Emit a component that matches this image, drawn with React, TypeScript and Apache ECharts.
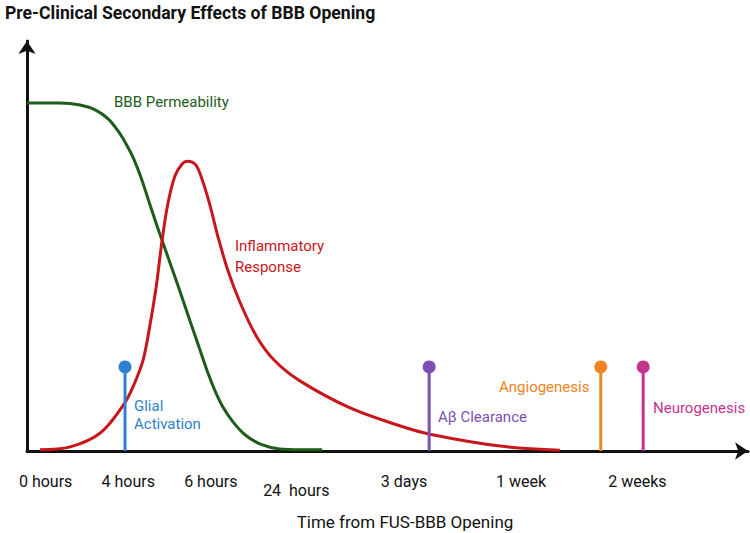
import React, { useEffect, useRef } from "react";
import * as echarts from "echarts";

const title = "Pre-Clinical Secondary Effects of BBB Opening";
const axisTitle = "Time from FUS-BBB Opening";

// tick labels (x positions in axis units)
const tickValues = [2.6, 14.1, 25.6, 52.5, 68.8, 85.0];
const tickLabels = ["0 hours", "4 hours", "6 hours", "3 days", "1 week", "2 weeks"];
const lowTickValues = [37.5];
const lowTickLabels = ["24  hours"];

// BBB permeability curve [x, y]
const bbbPermeability: [number, number][] = [
  [0, 84.9], [4.6, 84.9], [7.4, 84.4], [9.5, 83.2], [11.3, 81.0], [12.7, 78.0],
  [13.8, 74.9], [14.8, 71.5], [15.9, 66.6], [17.1, 60.2], [18.5, 52.9], [20.9, 41.0],
  [22.7, 31.7], [24.1, 24.6], [25.2, 19.0], [26.2, 14.6], [27.2, 11.0], [28.6, 7.3],
  [30.4, 3.9], [32.5, 1.7], [35.2, 0.5], [38.0, 0.3], [41.1, 0.3],
];

// Inflammatory response curve [x, y]
const inflammatory: [number, number][] = [
  [1.8, 0.3], [6.0, 1.0], [10.2, 4.4], [13.6, 11.7], [15.0, 16.6], [16.2, 22.4],
  [17.1, 30.5], [18.0, 40.2], [18.8, 51.2], [19.6, 60.2], [20.6, 67.1], [21.6, 70.0],
  [22.3, 70.7], [23.5, 69.8], [24.5, 65.6], [25.5, 59.8], [26.6, 52.2], [28.0, 43.9],
  [29.7, 36.1], [32.0, 27.8], [34.5, 22.0], [38.0, 17.1], [45.0, 10.5], [52.0, 6.1],
  [56.1, 4.1], [65.9, 1.2], [74.2, 0.2],
];

// event stems
const eventNames = ["Glial Activation", "Aβ Clearance", "Angiogenesis", "Neurogenesis"];
const eventX = [13.65, 56.0, 79.9, 85.8];
const eventHeight = [20.5, 20.5, 20.5, 20.5];
const eventColors = ["#2f7fd0", "#7d4fb5", "#ee8421", "#c4338e"];

const GREEN = "#1d5c1a";
const RED = "#c8171c";
const FONT = "Roboto";

export default function App() {
  const ref = useRef<HTMLDivElement>(null);
  useEffect(() => {
    if (!ref.current) return;
    const chart = echarts.init(ref.current, null, { renderer: "svg" });

    const stemSeries = eventNames.map((name, i) => ({
      type: "line",
      name,
      data: [
        { value: [eventX[i], 0], symbolSize: 0 },
        { value: [eventX[i], eventHeight[i]], symbolSize: 13 },
      ],
      symbol: "circle",
      showSymbol: true,
      lineStyle: { color: eventColors[i], width: 3 },
      itemStyle: { color: eventColors[i] },
      z: 3,
    }));

    const labelText = (text: string, x: number, y: number, color: string) => ({
      type: "text",
      x,
      y,
      style: {
        text,
        fill: color,
        font: `15px ${FONT}`,
        textAlign: "left",
        textVerticalAlign: "middle",
      },
    });

    const fmt = (vals: number[], labels: string[]) => (v: number) => {
      const idx = vals.findIndex((t) => Math.abs(t - v) < 1e-6);
      return idx >= 0 ? labels[idx] : "";
    };

    chart.setOption({
      animation: false,
      title: {
        text: title,
        left: 0,
        top: -1,
        textStyle: { fontFamily: FONT, fontSize: 17.6, fontWeight: "bold", color: "#111" },
      },
      grid: { left: 27, right: 2, top: 41, bottom: 82, containLabel: false },
      xAxis: [
        {
          type: "value",
          min: 0,
          max: 100.4,
          axisLine: {
            show: true,
            lineStyle: { color: "#111", width: 3 },
            symbol: ["none", "arrow"],
            symbolSize: [13, 13],
          },
          axisTick: { show: false },
          splitLine: { show: false },
          axisLabel: {
            customValues: tickValues,
            formatter: fmt(tickValues, tickLabels),
            margin: 22,
            color: "#111",
            fontFamily: FONT,
            fontSize: 16,
          },
        },
        {
          type: "value",
          min: 0,
          max: 100.4,
          position: "bottom",
          axisLine: { show: false },
          axisTick: { show: false },
          splitLine: { show: false },
          axisLabel: {
            customValues: lowTickValues,
            formatter: fmt(lowTickValues, lowTickLabels),
            margin: 31,
            color: "#111",
            fontFamily: FONT,
            fontSize: 16,
          },
        },
      ],
      yAxis: {
        type: "value",
        min: 0,
        max: 100,
        axisLine: {
          show: true,
          lineStyle: { color: "#111", width: 3 },
          symbol: ["none", "arrow"],
          symbolSize: [13, 13],
        },
        axisTick: { show: false },
        splitLine: { show: false },
        axisLabel: { show: false },
      },
      series: [
        {
          type: "line",
          name: "BBB Permeability",
          data: bbbPermeability,
          smooth: 0.35,
          showSymbol: false,
          lineStyle: { color: GREEN, width: 3 },
          z: 2,
        },
        {
          type: "line",
          name: "Inflammatory Response",
          data: inflammatory,
          smooth: 0.35,
          showSymbol: false,
          lineStyle: { color: RED, width: 3 },
          z: 2,
        },
        ...stemSeries,
      ],
      graphic: [
        labelText("BBB Permeability", 114, 102, GREEN),
        labelText("Inflammatory", 235, 246, RED),
        labelText("Response", 235, 267, RED),
        labelText("Glial", 134, 406, eventColors[0]),
        labelText("Activation", 134, 424, eventColors[0]),
        labelText("Aβ Clearance", 438, 417, eventColors[1]),
        labelText("Angiogenesis", 499, 387, eventColors[2]),
        labelText("Neurogenesis", 653, 408, eventColors[3]),
        {
          type: "text",
          x: 405,
          y: 522,
          style: {
            text: axisTitle,
            fill: "#111",
            font: `17px ${FONT}`,
            textAlign: "center",
            textVerticalAlign: "middle",
          },
        },
      ],
    });
    return () => chart.dispose();
  }, []);
  return (
    <div
      ref={ref}
      style={{ position: "absolute", left: 0, top: 0, width: 750, height: 533 }}
    />
  );
}
